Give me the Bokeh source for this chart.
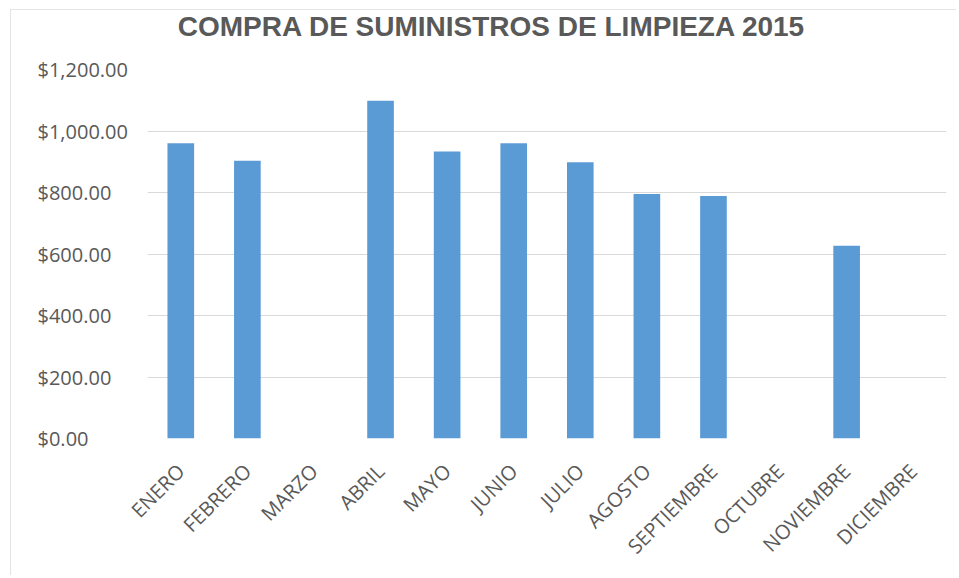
from bokeh.plotting import figure
from bokeh.models import Range1d, FixedTicker, ColumnDataSource
from bokeh.core.properties import value
from bokeh.embed import file_html
from bokeh.resources import INLINE
import math

# ---- data ----
months = ["ENERO", "FEBRERO", "MARZO", "ABRIL", "MAYO", "JUNIO", "JULIO",
          "AGOSTO", "SEPTIEMBRE", "OCTUBRE", "NOVIEMBRE", "DICIEMBRE"]
amounts = [960, 903, None, 1098, 933, 960, 898, 795, 789, None, 627, None]
y_ticks = [0, 200, 400, 600, 800, 1000, 1200]
y_tick_labels = ["$0.00", "$200.00", "$400.00", "$600.00", "$800.00",
                 "$1,000.00", "$1,200.00"]
title_text = "COMPRA DE SUMINISTROS DE LIMPIEZA 2015"

# ---- derived ----
xs = [i + 0.5 for i in range(len(months))]
tops = [float("nan") if v is None else v for v in amounts]
src = ColumnDataSource(dict(x=xs, top=tops))
ysrc = ColumnDataSource(dict(y=y_ticks, t=y_tick_labels))

GRAY = "#595959"
YMAX = y_ticks[-1]

p = figure(width=946, height=566, output_backend="svg", toolbar_location=None,
           x_range=Range1d(0, len(months)), y_range=Range1d(0, YMAX),
           min_border_left=136, min_border_right=11, min_border_top=59,
           min_border_bottom=138)
p.styles = {"margin-left": "10px", "margin-top": "9px",
            "border-top": "1px solid #e4e4e4", "border-left": "1px solid #e4e4e4"}
p.outline_line_color = None
p.background_fill_color = "white"
p.border_fill_color = "white"

p.vbar(x="x", top="top", bottom=0, width=0.4, source=src,
       fill_color="#5B9BD5", line_color=None)

# title (drawn as overlay text above the frame)
p.text(x=[len(months) / 2], y=[YMAX], text=[title_text], x_offset=-55, y_offset=-43,
       text_align="center", text_baseline="middle",
       text_font=value("Liberation Sans"), text_font_style="bold",
       text_font_size="28px", text_color=GRAY, level="overlay")

# grid
p.xgrid.visible = False
p.ygrid.ticker = FixedTicker(ticks=y_ticks[1:])
p.ygrid.grid_line_color = "#d9d9d9"
p.ygrid.grid_line_width = 1

# y axis hidden; left-aligned tick labels
p.yaxis.visible = False
p.text(x=0, y="y", text="t", source=ysrc, x_offset=-110,
       text_align="left", text_baseline="middle",
       text_font=value("Open Sans"), text_font_size="20px",
       text_color=GRAY, level="overlay")

# x axis
p.xaxis.ticker = FixedTicker(ticks=xs)
p.xaxis.major_label_overrides = {x: m for x, m in zip(xs, months)}
p.xaxis.major_label_orientation = math.pi / 4
p.xaxis.axis_line_color = None
p.xaxis.major_tick_line_color = None
p.xaxis.minor_tick_line_color = None
p.xaxis.major_label_text_font = "Open Sans"
p.xaxis.major_label_text_font_size = "20px"
p.xaxis.major_label_text_color = GRAY
p.xaxis.major_label_standoff = 23

open("out.html", "w").write(file_html(p, INLINE))
